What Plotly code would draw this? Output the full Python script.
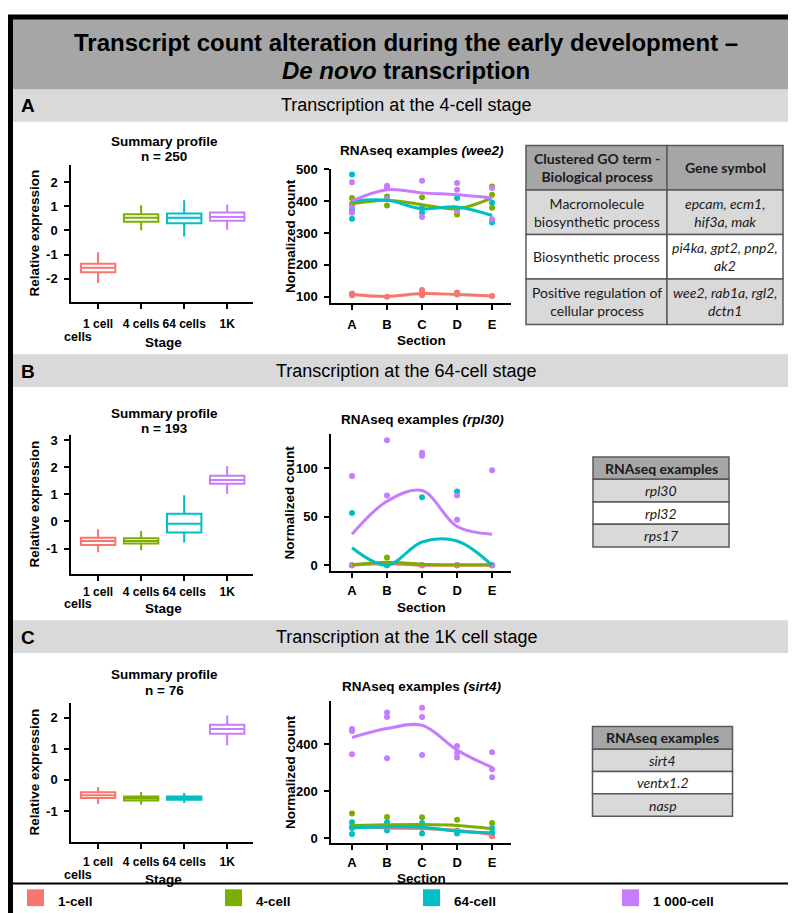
import plotly.graph_objects as go

W, H = 796, 913
FONT = "Liberation Sans, Arial, sans-serif"
TFONT = "Lato, Carlito, sans-serif"

# ---------------- data ----------------
STAGE_NAMES = ["1-cell", "4-cell", "64-cell", "1 000-cell"]
STAGE_COLORS = ["#F8766D", "#7CAE00", "#00BFC4", "#C77CFF"]
STAGE_TICKS = ["1 cell", "4 cells", "64 cells", "1K"]
SECTIONS = ["A", "B", "C", "D", "E"]

PANEL_LETTERS = ["A", "B", "C"]
PANEL_HEADERS = ["Transcription at the 4-cell stage",
                 "Transcription at the 64-cell stage",
                 "Transcription at the 1K cell stage"]
PANEL_N = [250, 193, 76]
PANEL_GENES = ["wee2", "rpl30", "sirt4"]

# summary profile box statistics (stage order)
A_LOW = [-2.18, 0.01, -0.25, 0.03]
A_Q1 = [-1.73, 0.36, 0.30, 0.40]
A_MED = [-1.55, 0.53, 0.53, 0.56]
A_Q3 = [-1.38, 0.67, 0.70, 0.74]
A_HIGH = [-0.90, 1.04, 1.25, 1.08]

B_LOW = [-1.14, -1.06, -0.78, 1.01]
B_Q1 = [-0.87, -0.81, -0.41, 1.39]
B_MED = [-0.72, -0.72, -0.09, 1.53]
B_Q3 = [-0.60, -0.62, 0.28, 1.68]
B_HIGH = [-0.29, -0.35, 0.96, 2.04]

C_LOW = [-0.77, -0.80, -0.74, 1.11]
C_Q1 = [-0.58, -0.66, -0.64, 1.48]
C_MED = [-0.49, -0.59, -0.58, 1.64]
C_Q3 = [-0.40, -0.53, -0.53, 1.77]
C_HIGH = [-0.23, -0.39, -0.42, 2.07]

# RNAseq examples: replicate points per stage
A_PX_1 = ["A", "A", "B", "C", "C", "C", "D", "D", "E"]
A_PY_1 = [110, 105, 100, 121, 113, 105, 113, 107, 102]
A_PX_4 = ["A", "A", "B", "B", "C", "D", "E", "E", "E"]
A_PY_4 = [410, 392, 415, 386, 412, 358, 446, 420, 379]
A_PX_64 = ["A", "A", "A", "B", "C", "C", "D", "E", "E"]
A_PY_64 = [484, 372, 345, 407, 379, 364, 410, 395, 333]
A_PX_1K = ["A", "A", "A", "B", "B", "B", "C", "C", "D", "D", "D", "E", "E"]
A_PY_1K = [459, 384, 364, 448, 441, 407, 464, 350, 457, 436, 369, 441, 343]
A_FIT_1 = [107, 101, 110, 107, 102]
A_FIT_4 = [392, 403, 389, 376, 410]
A_FIT_64 = [400, 403, 376, 382, 355]
A_FIT_1K = [401, 436, 426, 420, 410]

B_PX_1 = ["A", "B", "C", "D", "E"]
B_PY_1 = [0, 0, 0, 0, 0]
B_PX_4 = ["A", "B", "C", "D", "E"]
B_PY_4 = [0, 8, 0, 0, 0]
B_PX_64 = ["A", "B", "C", "D", "E"]
B_PY_64 = [54, 0, 70, 76, 0]
B_PX_1K = ["A", "A", "B", "B", "C", "C", "C", "D", "D", "D", "E", "E"]
B_PY_1K = [92, 0, 129, 72, 116, 113, 0, 72, 47, 0, 98, 0]
B_FIT_1 = [0, 1.5, 0, 0, 0]
B_FIT_4 = [0.5, 3, 1, 0.5, 0.5]
B_FIT_64 = [18, 0, 24, 25, 0]
B_FIT_1K = [32, 66, 77, 40, 32]

C_PX_1 = ["A", "B", "C", "D", "E"]
C_PY_1 = [51, 47, 44, 33, 8]
C_PX_4 = ["A", "B", "C", "D", "E"]
C_PY_4 = [105, 90, 89, 79, 65]
C_PX_64 = ["A", "A", "A", "B", "B", "C", "C", "D", "D", "E", "E"]
C_PY_64 = [68, 44, 18, 68, 33, 65, 20, 30, 20, 44, 23]
C_PX_1K = ["A", "A", "A", "B", "B", "B", "C", "C", "C", "D", "D", "D", "E", "E", "E"]
C_PY_1K = [466, 458, 358, 537, 517, 341, 557, 517, 355, 394, 365, 345, 367, 294, 260]
C_FIT_1 = [51, 44, 41, 33, 16]
C_FIT_4 = [54, 57, 58, 54, 40]
C_FIT_64 = [44, 48, 47, 30, 23]
C_FIT_1K = [430, 468, 482, 376, 302]

# tables
TABLE_A_HEAD = ["Clustered GO term -<br>Biological process", "Gene symbol"]
TABLE_A_TERMS = ["Macromolecule<br>biosynthetic process", "Biosynthetic process",
                 "Positive regulation of<br>cellular process"]
TABLE_A_GENES = ["epcam, ecm1,<br>hif3a, mak", "pi4ka, gpt2, pnp2,<br>ak2",
                 "wee2, rab1a, rgl2,<br>dctn1"]
TABLE_B_HEAD = "RNAseq examples"
TABLE_B_ROWS = ["rpl30", "rpl32", "rps17"]
TABLE_C_HEAD = "RNAseq examples"
TABLE_C_ROWS = ["sirt4", "ventx1.2", "nasp"]

# ---------------- layout geometry (pixels) ----------------
def X(px):
    return px / W


def Y(py):
    return 1 - py / H


SUM_X = (63, 245)
RNA_X = (323, 503)
SUM_Y = [(152, 290), (425, 565), (696, 836)]
RNA_Y = [(156, 291), (424, 562), (694, 837)]
SUM_YRANGE = [(-2.96, 2.7), (-1.93, 3.17), (-1.99, 2.46)]
RNA_YRANGE = [(81, 500), (-5.8, 135), (-19.8, 584)]
SUM_YTICKS = [[-2, -1, 0, 1, 2], [-1, 0, 1, 2, 3], [-1, 0, 1, 2]]
RNA_YTICKS = [[100, 200, 300, 400, 500], [0, 50, 100], [0, 200, 400]]
SUM_XSTAND = [5, 1, 3]
RNA_XSTAND = [4, 2, 2]
TICKROW = [309.7, 579.3, 853.3]
BANDS = [(75, 108), (343, 376), (612, 645)]
BAND_TEXT_Y = [91, 360, 629]
SUM_TITLE_Y = [(128, 143), (403, 418), (667, 683)]
RNA_TITLE_Y = [137, 409, 679]

BOXES = [(A_LOW, A_Q1, A_MED, A_Q3, A_HIGH),
         (B_LOW, B_Q1, B_MED, B_Q3, B_HIGH),
         (C_LOW, C_Q1, C_MED, C_Q3, C_HIGH)]
POINTS = [[(A_PX_1, A_PY_1), (A_PX_4, A_PY_4), (A_PX_64, A_PY_64), (A_PX_1K, A_PY_1K)],
          [(B_PX_1, B_PY_1), (B_PX_4, B_PY_4), (B_PX_64, B_PY_64), (B_PX_1K, B_PY_1K)],
          [(C_PX_1, C_PY_1), (C_PX_4, C_PY_4), (C_PX_64, C_PY_64), (C_PX_1K, C_PY_1K)]]
FITS = [[A_FIT_1, A_FIT_4, A_FIT_64, A_FIT_1K],
        [B_FIT_1, B_FIT_4, B_FIT_64, B_FIT_1K],
        [C_FIT_1, C_FIT_4, C_FIT_64, C_FIT_1K]]

fig = go.Figure()
layout_axes = {}
shapes = []
annotations = []


def ann(text, x, y, size=13.5, xanchor="center", angle=0, family=FONT, color="black"):
    annotations.append(dict(text=text, x=X(x), y=Y(y), xref="paper", yref="paper",
                            showarrow=False, xanchor=xanchor, yanchor="middle",
                            textangle=angle, font=dict(family=family, size=size, color=color)))


def rect(x0, y0, x1, y1, fill, line=None, lw=0):
    shapes.append(dict(type="rect", xref="paper", yref="paper",
                       x0=X(x0), x1=X(x1), y0=Y(y1), y1=Y(y0),
                       fillcolor=fill, line=dict(color=line or fill, width=lw), layer="below"))


def axis_common(size=13):
    return dict(showline=True, linecolor="black", linewidth=1.5, ticks="outside",
                ticklen=5, tickwidth=1.5, tickcolor="black", showgrid=False,
                zeroline=False, fixedrange=True,
                tickfont=dict(family=FONT, size=size, color="black", weight="bold"))


for p in range(3):
    i_sum, i_rna = 2 * p + 1, 2 * p + 2
    xs, ys = ("x" if i_sum == 1 else f"x{i_sum}"), ("y" if i_sum == 1 else f"y{i_sum}")
    xr, yr = f"x{i_rna}", f"y{i_rna}"

    # --- summary profile boxes
    low, q1, med, q3, high = BOXES[p]
    for s in range(4):
        fig.add_trace(go.Box(x=[STAGE_TICKS[s]], q1=[q1[s]], median=[med[s]], q3=[q3[s]],
                             lowerfence=[low[s]], upperfence=[high[s]], width=0.8,
                             fillcolor="white", line=dict(color=STAGE_COLORS[s], width=2),
                             whiskerwidth=0, boxpoints=False, hoverinfo="skip",
                             xaxis=xs, yaxis=ys))
    ax = axis_common(12)
    ax.update(type="category", categoryorder="array", categoryarray=STAGE_TICKS,
              range=[-0.63, 3.6], domain=[X(SUM_X[0]), X(SUM_X[1])], anchor=ys,
              ticklabelstandoff=SUM_XSTAND[p], tickangle=0)
    layout_axes["xaxis" if i_sum == 1 else f"xaxis{i_sum}"] = ax
    ay = axis_common()
    ay.update(range=list(SUM_YRANGE[p]), tickvals=SUM_YTICKS[p],
              ticktext=[str(v) for v in SUM_YTICKS[p]],
              domain=[Y(SUM_Y[p][1]), Y(SUM_Y[p][0])], anchor=xs, ticklabelstandoff=4)
    layout_axes["yaxis" if i_sum == 1 else f"yaxis{i_sum}"] = ay

    # --- RNAseq examples
    for s in range(4):
        px_, py_ = POINTS[p][s]
        fig.add_trace(go.Scatter(x=px_, y=py_, mode="markers",
                                 marker=dict(color=STAGE_COLORS[s], size=6),
                                 hoverinfo="skip", xaxis=xr, yaxis=yr))
    for s in range(4):
        fig.add_trace(go.Scatter(x=SECTIONS, y=FITS[p][s], mode="lines",
                                 line=dict(color=STAGE_COLORS[s], width=3, shape="spline"),
                                 hoverinfo="skip", xaxis=xr, yaxis=yr))
    ax = axis_common()
    ax.update(type="category", categoryorder="array", categoryarray=SECTIONS,
              range=[-0.6, 4.54], domain=[X(RNA_X[0]), X(RNA_X[1])], anchor=yr,
              ticklabelstandoff=RNA_XSTAND[p], tickangle=0)
    layout_axes[f"xaxis{i_rna}"] = ax
    ay = axis_common()
    ay.update(range=list(RNA_YRANGE[p]), tickvals=RNA_YTICKS[p],
              ticktext=[str(v) for v in RNA_YTICKS[p]],
              domain=[Y(RNA_Y[p][1]), Y(RNA_Y[p][0])], anchor=xr, ticklabelstandoff=4)
    layout_axes[f"yaxis{i_rna}"] = ay

    # --- bands and texts
    rect(0, BANDS[p][0], W, BANDS[p][1], "#d9d9d9")
    ann(f"<b>{PANEL_LETTERS[p]}</b>", 20, BAND_TEXT_Y[p], size=19)
    ann(PANEL_HEADERS[p], 398, BAND_TEXT_Y[p], size=18)
    ann("<b>Summary profile</b>", 156, SUM_TITLE_Y[p][0])
    ann(f"<b>n = {PANEL_N[p]}</b>", 156, SUM_TITLE_Y[p][1])
    ann(f"<b>RNAseq examples <i>({PANEL_GENES[p]})</i></b>", 414, RNA_TITLE_Y[p])
    ann("<b>Relative expression</b>", 27, (SUM_Y[p][0] + SUM_Y[p][1]) / 2, angle=-90)
    ann("<b>Normalized count</b>", 282, (RNA_Y[p][0] + RNA_Y[p][1]) / 2, angle=-90)
    ann("<b>cells</b>", 70, TICKROW[p] + 16, size=12.5)
    ann("<b>Stage</b>", 155, TICKROW[p] + 21)
    ann("<b>Section</b>", 413, TICKROW[p] + 19.4)

# title band
rect(0, 0, W, 75, "#a6a6a6")
ann("<b>Transcript count alteration during the early development –</b>", 398, 28, size=24)
ann("<b><i>De novo</i> transcription</b>", 398, 56.5, size=24)

# tables
BORDER = "#595959"
ROW_FILLS = ["#d9d9d9", "#ffffff", "#d9d9d9"]


def cell(x0, y0, x1, y1, fill, text, bold=False, italic=False):
    rect(x0, y0, x1, y1, fill, BORDER, 1.5)
    lines = text.split("<br>")
    out = []
    for ln in lines:
        if italic:
            ln = f"<i>{ln}</i>"
        if bold:
            ln = f"<b>{ln}</b>"
        out.append(ln)
    ann("<br>".join(out), (x0 + x1) / 2, (y0 + y1) / 2, size=14, family=TFONT, color="#1a1a1a")


TA_X = [518, 659, 775]
TA_Y = [132, 177, 222, 267, 313]
for c in range(2):
    cell(TA_X[c], TA_Y[0], TA_X[c + 1], TA_Y[1], "#a6a6a6", TABLE_A_HEAD[c], bold=True)
for r in range(3):
    cell(TA_X[0], TA_Y[r + 1], TA_X[1], TA_Y[r + 2], ROW_FILLS[r], TABLE_A_TERMS[r])
    cell(TA_X[1], TA_Y[r + 1], TA_X[2], TA_Y[r + 2], ROW_FILLS[r], TABLE_A_GENES[r], italic=True)

for (tx, ty, head, rows) in [((585, 721), [447, 469.5, 492.5, 515, 538], TABLE_B_HEAD, TABLE_B_ROWS),
                             ((584.5, 724.5), [719.5, 742.5, 765, 787.5, 810], TABLE_C_HEAD, TABLE_C_ROWS)]:
    cell(tx[0], ty[0], tx[1], ty[1], "#a6a6a6", head, bold=True)
    for r in range(3):
        cell(tx[0], ty[r + 1], tx[1], ty[r + 2], ROW_FILLS[r], rows[r], italic=True)

# legend
LEG_SQ_X = [19, 217, 415, 614]
for s in range(4):
    rect(LEG_SQ_X[s], 884, LEG_SQ_X[s] + 17, 901, STAGE_COLORS[s])
    ann(f"<b>{STAGE_NAMES[s]}</b>", LEG_SQ_X[s] + 29, 896, size=13.5, xanchor="left")

shapes.append(dict(type="line", xref="paper", yref="paper", x0=0, x1=1,
                   y0=Y(878), y1=Y(878), line=dict(color="black", width=2)))
shapes.append(dict(type="rect", xref="paper", yref="paper", x0=X(2.5), x1=X(792),
                   y0=Y(910.5), y1=Y(2), line=dict(color="black", width=5),
                   fillcolor="rgba(0,0,0,0)"))

fig.update_layout(width=W, height=H, margin=dict(l=0, r=0, t=0, b=0),
                  paper_bgcolor="white", plot_bgcolor="rgba(0,0,0,0)",
                  showlegend=False, boxmode="overlay",
                  shapes=shapes, annotations=annotations, **layout_axes)

fig.write_html("out.html")
